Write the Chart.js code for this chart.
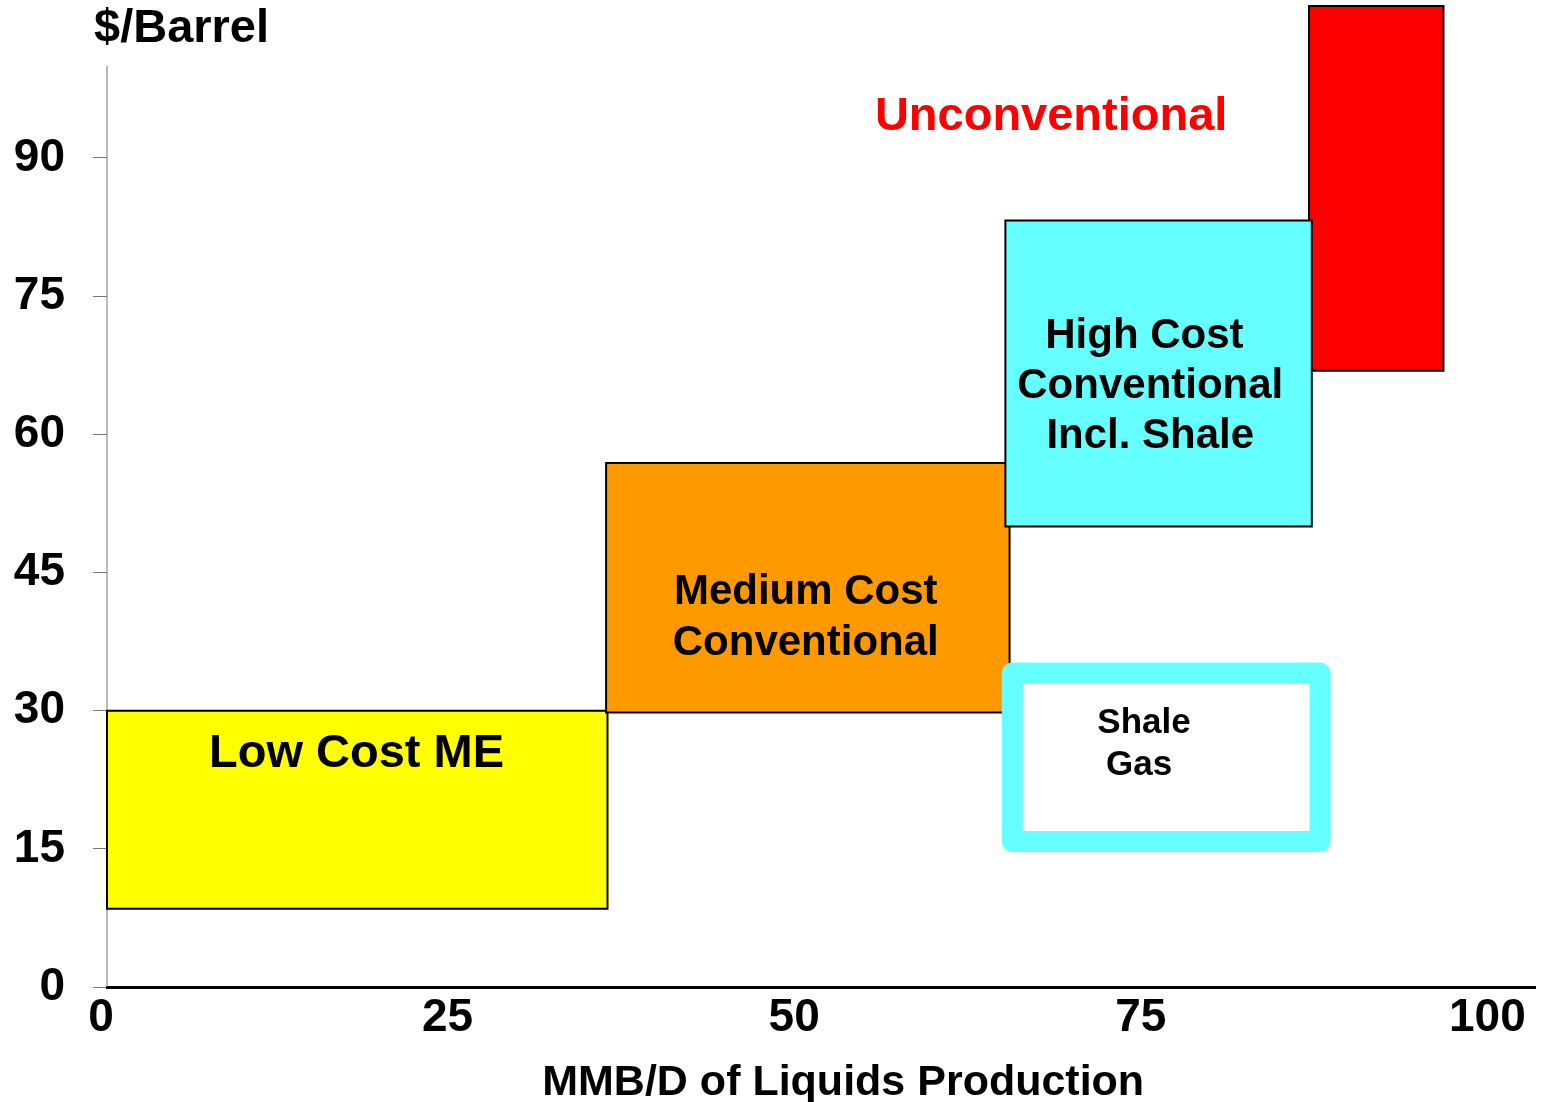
<!DOCTYPE html>
<html>
<head>
<meta charset="utf-8">
<title>Liquids supply cost</title>
<script src="https://cdn.jsdelivr.net/npm/chart.js@4.4.1/dist/chart.umd.min.js"></script>
<style>
  html, body { margin: 0; padding: 0; background: #ffffff; }
  .c-chart { position: relative; width: 1549px; height: 1102px; }
</style>
</head>
<body>
<div class="c-chart"><canvas id="costChart"></canvas></div>
<script>
// cost blocks: x = MMB/D of liquids, y = $/barrel
const blocks = ['Low Cost ME', 'Medium Cost Conventional', 'Unconventional', 'High Cost Conventional Incl. Shale', 'Shale Gas'];
const volumeFrom = [0, 36.0, 86.7, 64.8, 65.3];
const volumeTo = [36.1, 65.1, 96.4, 86.9, 87.5];
const costFrom = [8.5, 29.8, 66.9, 50.0, 15.8];
const costTo = [30.0, 56.9, 106.5, 83.2, 34.1];

// tick labels
const xTickValues = [0, 25, 50, 75, 100];
const yTickValues = [0, 15, 30, 45, 60, 75, 90];

const fontFamily = "'Liberation Sans', Arial, sans-serif";

// one style per block (same order as blocks)
const blockStyles = [
  { fill: '#ffff00', line: '#000000', width: 2 },
  { fill: '#ff9900', line: '#000000', width: 2 },
  { fill: '#ff0000', line: '#000000', width: 2 },
  { fill: '#66ffff', line: '#000000', width: 2 },
  { fill: null, line: '#66ffff', width: 21, ring: true },
];

// text inside the plot, placed in data units
const notes = [
  { lines: ['Low Cost ME'], x: 18.0, y: 25.27, size: 47 },
  { lines: ['Medium Cost', 'Conventional'], x: 50.4, y: 40.07, size: 42 },
  { lines: ['High Cost ', 'Conventional', 'Incl. Shale'], x: 75.25, y: 65.2, size: 42 },
  { lines: ['Shale', 'Gas '], x: 74.8, y: 26.3, size: 35 },
  { lines: ['Unconventional'], x: 68.1, y: 94.45, size: 47, color: '#ff0000' },
];

const makeDatasets = function () {
  const sets = [
    {
      label: 'y axis',
      data: [{ x: 0, y: 0 }, { x: 0, y: 100 }],
      borderColor: '#777777',
      borderWidth: 1,
      pointRadius: 0,
      fill: false,
      clip: false,
    },
  ];

  blocks.forEach(function (name, i) {
    const x0 = volumeFrom[i];
    const x1 = volumeTo[i];
    const y0 = costFrom[i];
    const y1 = costTo[i];
    const style = blockStyles[i];
    let pts;
    if (style.ring) {
      // start mid-edge so every corner gets a round join
      const xm = (x0 + x1) / 2;
      pts = [[xm, y1], [x1, y1], [x1, y0], [x0, y0], [x0, y1], [xm, y1]];
    } else {
      pts = [[x0, y0], [x1, y0], [x1, y1], [x0, y1], [x0, y0]];
    }
    sets.push({
      label: name,
      data: pts.map((p) => ({ x: p[0], y: p[1] })),
      borderColor: style.line,
      borderWidth: style.width,
      backgroundColor: style.fill || 'rgba(0,0,0,0)',
      fill: style.fill ? 'shape' : false,
      borderJoinStyle: style.ring ? 'round' : 'miter',
      borderCapStyle: style.ring ? 'butt' : 'square',
      pointRadius: 0,
      pointHoverRadius: 0,
      tension: 0,
      clip: false,
    });
  });

  // first in the list is drawn first
  sets.forEach(function (s, i) {
    s.order = sets.length - i;
  });
  return sets;
};

// free text: block names and axis titles
const notesPlugin = {
  id: 'notes',
  afterDatasetsDraw(chart) {
    const { ctx, chartArea } = chart;
    const x = chart.scales.x;
    const y = chart.scales.y;
    ctx.save();
    ctx.textAlign = 'center';
    ctx.textBaseline = 'middle';
    notes.forEach(function (note) {
      ctx.font = `bold ${note.size}px ${fontFamily}`;
      ctx.fillStyle = note.color || '#000000';
      const gap = note.size * 1.2;
      const cx = x.getPixelForValue(note.x);
      const cy = y.getPixelForValue(note.y) - (gap * (note.lines.length - 1)) / 2;
      note.lines.forEach(function (line, i) {
        ctx.fillText(line, cx, cy + i * gap);
      });
    });

    ctx.fillStyle = '#000000';
    ctx.textAlign = 'left';
    ctx.font = `bold 47px ${fontFamily}`;
    ctx.fillText('$/Barrel', chartArea.left - 13, 29);

    ctx.textAlign = 'center';
    ctx.font = `bold 43px ${fontFamily}`;
    ctx.fillText('MMB/D of Liquids Production', x.getPixelForValue(53.1), chart.height - 19);
    ctx.restore();
  },
};

const makeChart = function () {
  const config = {
    type: 'line',
    data: { datasets: makeDatasets() },
    options: {
      responsive: true,
      maintainAspectRatio: false,
      animation: false,
      events: [],
      layout: { padding: { left: 0, right: 14, top: 6, bottom: 0 } },
      plugins: {
        legend: { display: false },
        tooltip: { enabled: false },
      },
      scales: {
        x: {
          type: 'linear',
          min: 0,
          max: 103,
          afterBuildTicks: (scale) => {
            scale.ticks = xTickValues.map((v) => ({ value: v }));
          },
          afterFit: (scale) => {
            scale.height = 115;
          },
          grid: { display: false, drawTicks: false },
          border: { display: true, color: '#000000', width: 3 },
          ticks: {
            padding: 4,
            labelOffset: -6,
            autoSkip: false,
            maxRotation: 0,
            color: '#000000',
            font: { family: fontFamily, size: 46, weight: 'bold' },
          },
        },
        y: {
          type: 'linear',
          min: 0,
          max: 106.5,
          afterBuildTicks: (scale) => {
            scale.ticks = yTickValues.map((v) => ({ value: v }));
          },
          afterFit: (scale) => {
            scale.width = 107;
            // top label is far from the edge, no extra room needed
            scale.paddingTop = 0;
            scale.paddingBottom = 0;
          },
          grid: { drawOnChartArea: false, drawTicks: true, tickLength: 14, color: '#777777', lineWidth: 1 },
          border: { display: false },
          ticks: {
            padding: 28,
            color: '#000000',
            font: { family: fontFamily, size: 46, weight: 'bold' },
          },
        },
      },
    },
    plugins: [notesPlugin],
  };

  new Chart(document.getElementById('costChart'), config);
};

document.addEventListener('DOMContentLoaded', makeChart);
</script>
</body>
</html>
